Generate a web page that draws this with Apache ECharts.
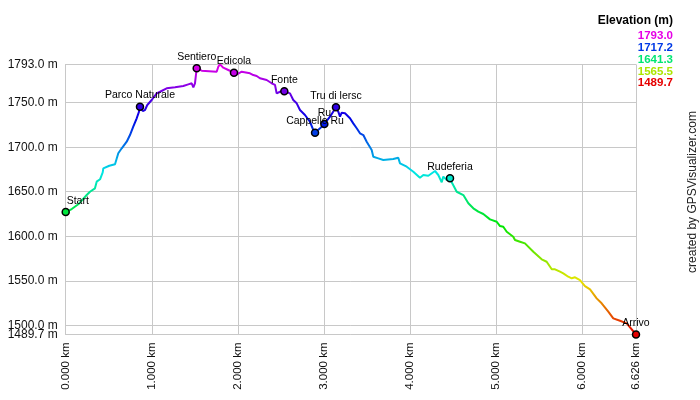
<!DOCTYPE html>
<html>
<head>
<meta charset="utf-8">
<script src="https://cdn.jsdelivr.net/npm/echarts@6/dist/echarts.min.js"></script>
<style>html,body{margin:0;padding:0;background:#fff}#c{width:700px;height:400px}</style>
</head>
<body>
<div id="c"></div>
<script>
// distance along track (km)
const distKm = [0.000,0.070,0.146,0.244,0.282,0.340,0.360,0.399,0.430,0.437,0.507,0.573,0.611,0.651,0.709,0.747,0.785,0.825,0.852,0.863,0.895,0.921,0.948,0.999,1.057,1.096,1.173,1.270,1.366,1.424,1.464,1.483,1.502,1.522,1.580,1.754,1.773,1.793,1.831,1.889,1.955,1.975,2.045,2.141,2.180,2.219,2.257,2.335,2.393,2.432,2.451,2.490,2.540,2.606,2.644,2.684,2.722,2.780,2.838,2.877,2.897,2.955,3.005,3.071,3.140,3.167,3.187,3.207,3.245,3.303,3.341,3.381,3.419,3.458,3.497,3.555,3.574,3.632,3.690,3.806,3.864,3.884,3.962,4.039,4.116,4.155,4.213,4.291,4.329,4.369,4.387,4.427,4.465,4.485,4.543,4.620,4.678,4.736,4.794,4.852,4.930,5.008,5.046,5.084,5.124,5.200,5.220,5.278,5.336,5.433,5.530,5.588,5.647,5.685,5.743,5.781,5.839,5.879,5.918,5.975,6.033,6.092,6.169,6.227,6.304,6.362,6.440,6.518,6.626];
// elevation (m)
const elevM = [1627.2,1630.6,1635.9,1646.3,1650.0,1653.8,1661.3,1664.0,1671.8,1676.3,1679.2,1680.8,1693.2,1698.8,1706.2,1713.7,1723.0,1732.5,1739.9,1745.5,1740.7,1741.8,1747.4,1753.0,1760.5,1762.3,1766.2,1767.3,1768.7,1770.6,1771.8,1767.3,1771.8,1788.6,1786.0,1784.8,1790.4,1793.0,1789.3,1786.7,1783.7,1781.0,1784.8,1783.0,1781.0,1780.0,1777.4,1775.5,1771.8,1769.9,1760.5,1762.3,1762.8,1760.5,1753.0,1749.3,1741.8,1736.2,1728.6,1719.3,1716.3,1721.2,1726.1,1734.3,1744.8,1739.9,1734.3,1738.8,1738.1,1732.5,1726.8,1721.3,1715.6,1713.7,1706.2,1696.9,1689.3,1687.5,1685.6,1686.7,1688.2,1681.9,1678.1,1672.5,1665.8,1668.8,1668.0,1673.3,1668.8,1660.6,1667.0,1663.2,1665.1,1660.6,1650.0,1646.3,1637.0,1631.4,1627.6,1625.0,1619.0,1616.3,1611.5,1610.7,1605.1,1599.5,1595.8,1593.9,1592.0,1582.6,1574.1,1571.4,1562.9,1562.9,1560.2,1558.4,1554.6,1552.8,1553.9,1550.8,1544.1,1540.4,1530.3,1524.7,1515.3,1507.8,1505.1,1502.2,1489.7];
// waypoints
const wpNames = ['Start','Parco Naturale','Sentiero','Edicola','Fonte','Cappello Ru','Ru','Tru di lersc','Rudeferia','Arrivo'];
const wpKm    = [0.000,0.863,1.522,1.955,2.540,2.897,3.005,3.140,4.465,6.626];
const wpElev  = [1627.2,1745.5,1788.6,1783.7,1762.8,1716.3,1726.1,1744.8,1665.1,1489.7];
// ticks
const xTicks = [0,1,2,3,4,5,6,6.626];
const yTicks = [1500,1550,1600,1650,1700,1750,1793];
const yExtraTicks = [1489.7];
// colour legend values
const legendVals = [1793.0,1717.2,1641.3,1565.5,1489.7];
const legendCols = ['#e600e6','#0039e6','#00e673','#ace600','#e60000'];

const FONT = "'Liberation Sans', Arial, sans-serif";
const lineData = distKm.map((d,i)=>[d, elevM[i]]);
const wpData = wpNames.map((n,i)=>{
  const o = {name:n, value:[wpKm[i], wpElev[i]]};
  if (n === 'Start') o.label = {align:'left', offset:[1,0]};
  return o;
});

const graphics = [
  {type:'text', right:27, top:15, style:{text:'Elevation (m)', font:'bold 12px '+FONT, fill:'#000', textAlign:'right'}}
];
legendVals.forEach((v,i)=>{
  graphics.push({type:'text', right:27, top:30+i*11.8, style:{text:v.toFixed(1), font:'bold 11.5px '+FONT, fill:legendCols[i], textAlign:'right'}});
});
graphics.push({type:'text', x:693, y:192, rotation:Math.PI/2, style:{text:'created by GPSVisualizer.com', font:'12px '+FONT, fill:'#222', textAlign:'center', textVerticalAlign:'middle'}});

const yLabelCommon = {margin:8, color:'#111', fontSize:12, fontFamily:FONT, hideOverlap:false, showMinLabel:true, showMaxLabel:true,
  formatter:v=>v.toFixed(1)+' m'};

const chart = echarts.init(document.getElementById('c'), null, {renderer:'canvas'});
chart.setOption({
  animation:false,
  backgroundColor:'#fff',
  grid:{left:65.7, right:64, top:64.4, bottom:65.5, containLabel:false},
  xAxis:{
    type:'value', min:0, max:6.626,
    axisLine:{show:true, lineStyle:{color:'#c8c8c8', width:1}},
    axisTick:{show:false, customValues:xTicks},
    splitLine:{show:true, lineStyle:{color:'#c8c8c8', width:1}},
    axisLabel:{customValues:xTicks, rotate:90, margin:8, color:'#111', fontSize:11.5, fontFamily:FONT, hideOverlap:false,
      formatter:v=>v.toFixed(3)+' km'}
  },
  yAxis:[{
    type:'value', min:1489.7, max:1793,
    axisLine:{show:true, lineStyle:{color:'#c8c8c8', width:1}},
    axisTick:{show:false, customValues:yTicks},
    splitLine:{show:true, lineStyle:{color:'#c8c8c8', width:1}},
    axisLabel:Object.assign({customValues:yTicks, padding:[0,0,2,0]}, yLabelCommon)
  },{
    type:'value', min:1489.7, max:1793, position:'left',
    axisLine:{show:false}, axisTick:{show:false, customValues:yExtraTicks}, splitLine:{show:false},
    axisLabel:Object.assign({customValues:yExtraTicks, padding:[3,0,0,0]}, yLabelCommon)
  }],
  visualMap:{
    type:'continuous', show:false, dimension:1, min:1489.7, max:1793, seriesIndex:[0,1],
    inRange:{color:['#e60000','#e67300','#e6e600','#73e600','#00e600','#00e673','#00e6e6','#0073e6','#0000e6','#7300e6','#e600e6']}
  },
  series:[
    {type:'line', data:lineData, showSymbol:false, symbol:'none', lineStyle:{width:2}, z:2},
    {type:'scatter', data:wpData, symbol:'circle', symbolSize:7, z:3,
      itemStyle:{borderColor:'#000', borderWidth:1.5, opacity:1},
      label:{show:true, position:'top', distance:1.5, formatter:p=>p.name, color:'#000', fontSize:10.5, fontFamily:FONT}}
  ],
  graphic:graphics
});
</script>
</body>
</html>
